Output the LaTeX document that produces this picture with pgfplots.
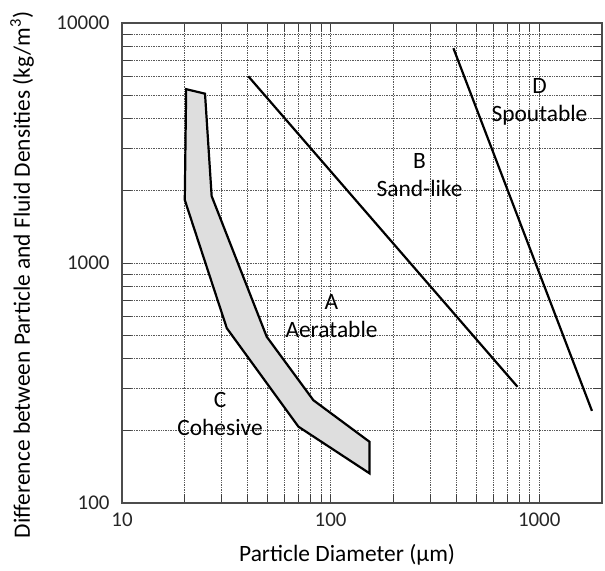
\documentclass[border=0pt]{standalone}
\usepackage{fontspec}
\setmainfont{Carlito}
\usepackage{pgfplots}
\pgfplotsset{compat=1.18}

\begin{document}
\begin{tikzpicture}
\begin{axis}[
  scale only axis, width=480bp, height=480bp,
  xmode=log, ymode=log,
  xmin=10, xmax=2000, ymin=100, ymax=10000,
  xtick={10,100,1000}, xticklabels={10,100,1000},
  ytick={100,1000,10000}, yticklabels={100,1000,10000},
  grid=both,
  grid style={black!65, line width=0.7bp, dash pattern=on 0.7bp off 1bp},
  tick align=inside, major tick length=9bp, minor tick length=9bp,
  tick style={black!75, line width=0.8bp},
  axis line style={black!70, line width=1.3bp},
  ticklabel style={font=\fontsize{21}{25}\selectfont, text=black!85},
  xticklabel style={yshift=-6bp},
  yticklabel style={xshift=-9bp},
  label style={font=\fontsize{23.5}{28}\selectfont},
  xlabel={Particle Diameter (μm)},
  ylabel={Difference between Particle and Fluid Densities (kg/m\textsuperscript{3})},
  xlabel style={at={(rel axis cs:0.469,0)}, anchor=center, yshift=-52bp},
  ylabel style={at={(rel axis cs:0,0.475)}, anchor=center, yshift=100bp},
]
% C/A boundary band
\addplot[fill=black!13, draw=black, line width=2.2bp] coordinates {
  (20.3,5300) (25.0,5075) (26.9,1900) (49.4,493) (82.7,268)
  (153.5,180) (153.5,133) (70.1,208) (31.8,535) (20.0,1830)
} -- cycle;
% A/B boundary
\addplot[black, line width=2.2bp] coordinates {(40.3,6000) (787,305)};
% B/D boundary
\addplot[black, line width=2.2bp] coordinates {(388,7850) (1790,242)};

\node[align=center, font=\fontsize{23.5}{28}\selectfont] at (axis cs:101,600) {A\\Aeratable};
\node[align=center, font=\fontsize{23.5}{28}\selectfont] at (axis cs:267,2320) {B\\Sand-like};
\node[align=center, font=\fontsize{23.5}{28}\selectfont] at (axis cs:29.5,235) {C\\Cohesive};
\node[align=center, font=\fontsize{23.5}{28}\selectfont] at (axis cs:1003,4690) {D\\Spoutable};

\coordinate (ll) at (rel axis cs:0,0);
\coordinate (ur) at (rel axis cs:1,1);
\end{axis}
\pgfresetboundingbox
\path ([shift={(-122bp,-68bp)}]ll) rectangle ([shift={(3bp,23bp)}]ur);
\end{tikzpicture}
\end{document}
